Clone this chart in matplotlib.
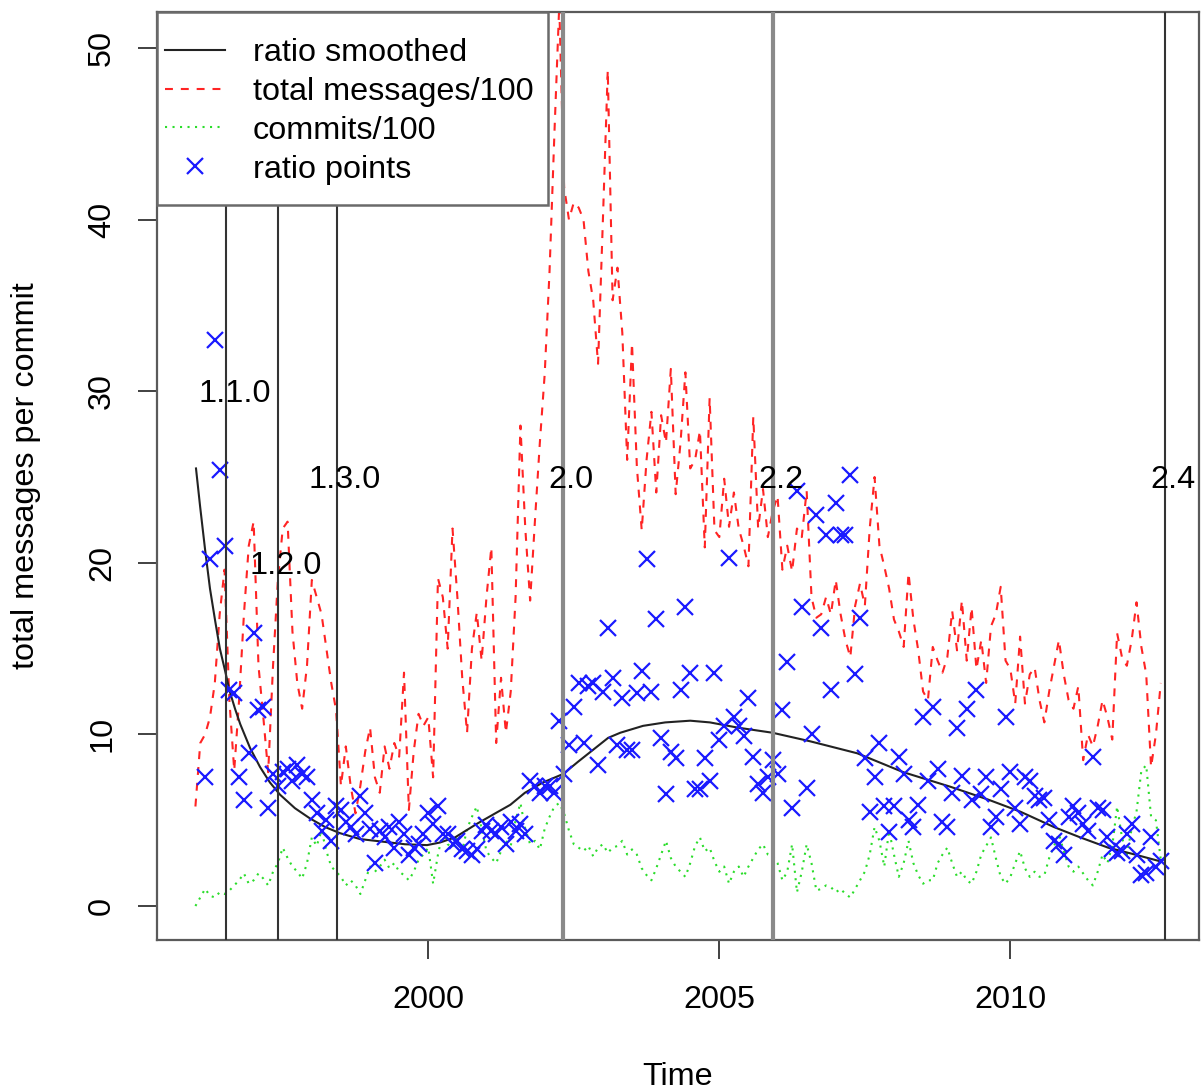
import numpy as np
import matplotlib
matplotlib.use("Agg")
import matplotlib.pyplot as plt
from matplotlib.lines import Line2D
from matplotlib.patches import Rectangle

plt.rcParams['font.family'] = ['Liberation Sans', 'DejaVu Sans']

# ---------------- data (monthly series starting Jan 1996) ----------------
start_year = 1996.0
months_per_year = 12

messages_per100 = [
    5.8, 9.5, 10, 11, 13, 17, 19.6, 12, 7.9, 12,
    17, 21, 22.4, 14, 11, 7.8, 14, 19, 22, 22.4,
    16, 13, 11.5, 14, 19, 18, 17, 15, 13, 11.4,
    7, 9.3, 7, 5.4, 7, 9, 10.4, 7.5, 6.6, 9.3,
    8, 9.5, 8.7, 13.6, 5.6, 9, 11.2, 10.5, 11, 7.5,
    19.1, 18, 15, 22, 18, 13.3, 10.1, 15, 17.1, 14.3,
    18, 20.9, 9.5, 13.3, 10.1, 12.5, 18, 28, 22, 17.8,
    22.5, 27, 31, 37, 45, 52.5, 41.9, 40, 41, 40.7,
    40, 37, 35.3, 31.6, 40, 48.7, 35.3, 37.2, 33.4, 26,
    32.8, 25.6, 21.9, 26, 28.8, 24.1, 28.6, 27, 31.3, 24,
    27, 31.1, 25.5, 26, 27.7, 20.9, 29.6, 21.9, 21.5, 24.9,
    22.1, 24.1, 22, 21, 19.8, 28.5, 22, 24.3, 21.5, 23,
    23.9, 19.6, 21, 19.5, 22, 21.5, 24.2, 18, 16.8, 17,
    18, 17, 19, 17, 15.5, 14.5, 17.5, 18.8, 17.5, 22,
    25, 21, 19.8, 18.5, 16.7, 16, 15.1, 19.4, 16.7, 14.9,
    12.5, 12, 15.1, 14.3, 13.6, 14.5, 17.2, 14.9, 17.8, 14.3,
    17.4, 13.8, 15.5, 13, 16.3, 17, 18.6, 14.3, 13.8, 11.8,
    15.7, 11.8, 13.5, 13.9, 12, 10.7, 12.5, 14, 15.5, 13.5,
    12, 11.5, 12.8, 8.5, 10, 9.3, 10.5, 12, 11, 9.7,
    15.9, 14.5, 14, 15.5, 17.7, 15.1, 13.5, 8.1, 10, 13,
]

commits_per100 = [
    0.0, 0.5, 1.0, 0.6, 0.5, 0.8, 0.7, 0.9, 1.2, 1.5,
    1.9, 1.3, 1.5, 1.9, 1.6, 1.2, 2.0, 2.5, 3.4, 2.8,
    2.3, 2.0, 1.6, 2.5, 4.0, 3.5, 4.4, 3.2, 2.3, 2.0,
    1.7, 1.2, 1.5, 1.2, 0.7, 1.5, 2.3, 2.0, 2.3, 2.7,
    2.2, 2.5, 2.0, 1.8, 1.5, 2.0, 2.7, 3.0, 3.4, 1.3,
    3.0, 4.3, 3.6, 3.4, 4.0, 3.2, 4.5, 5.2, 5.8, 4.5,
    3.2, 2.8, 2.5, 3.2, 3.8, 3.5, 5.0, 6.0, 4.5, 3.6,
    3.8, 3.3, 4.5, 5.2, 5.8, 6.0, 5.4, 4.4, 3.6, 3.4,
    3.2, 3.5, 2.9, 3.4, 3.6, 3.1, 3.4, 3.5, 3.8, 3.0,
    3.3, 3.0, 2.2, 1.8, 1.5, 2.2, 3.0, 3.8, 2.8, 2.3,
    2.0, 1.7, 2.5, 3.5, 4.0, 3.2, 3.4, 2.6, 2.0, 2.3,
    1.3, 2.0, 2.3, 1.7, 2.3, 2.8, 3.3, 3.6, 3.0, 2.9,
    2.5, 1.5, 2.0, 3.6, 0.8, 2.0, 3.6, 2.5, 0.9, 1.0,
    1.2, 1.1, 0.8, 1.0, 0.7, 0.5, 1.0, 1.5, 2.0, 3.0,
    4.6, 3.8, 2.3, 4.4, 3.0, 1.7, 2.5, 3.8, 2.5, 1.8,
    1.3, 1.5, 1.5, 2.5, 3.0, 3.4, 2.5, 1.7, 2.0, 1.5,
    1.3, 2.0, 3.0, 3.5, 4.0, 2.8, 1.7, 1.3, 1.7, 2.5,
    3.2, 2.2, 1.7, 2.0, 1.7, 1.8, 2.8, 3.5, 4.2, 3.2,
    2.3, 2.0, 2.3, 1.9, 1.5, 1.2, 2.0, 3.0, 2.5, 3.5,
    5.8, 4.0, 3.0, 4.5, 5.5, 7.9, 8.2, 5.2, 5.0, 2.7,
]

ratio_points = [
    np.nan, np.nan, 7.5, 20.2, 33, 25.4, 21, 12.6, 12.4, 7.5,
    6.2, 8.9, 15.9, 11.4, 11.6, 5.7, 7.7, 7.0, 7.8, 8.0,
    7.3, 8.2, 7.7, 7.5, 6.2, 5.4, 4.4, 5.0, 3.8, 5.8,
    5.6, 4.9, 4.6, 4.2, 6.4, 5.4, 4.5, 2.5, 4.4, 4.0,
    4.6, 3.4, 4.9, 4.2, 3.0, 3.4, 3.6, 4.2, 5.4, 4.8,
    5.8, 4.2, 4.2, 3.6, 3.8, 3.3, 3.2, 3.0, 3.3, 4.4,
    4.7, 4.4, 4.2, 4.6, 3.6, 4.9, 4.4, 4.8, 4.2, 7.3,
    7.0, 6.6, 7.0, 7.0, 6.6, 10.8, 7.7, 9.4, 11.6, 13.0,
    9.5, 12.8, 13.0, 8.2, 12.5, 16.2, 13.3, 9.4, 12.1, 9.1,
    9.1, 12.4, 13.7, 20.2, 12.5, 16.7, 9.8, 6.5, 9.0, 8.6,
    12.6, 17.4, 13.6, 6.8, 6.8, 8.6, 7.3, 13.6, 9.7, 10.5,
    20.3, 11.0, 10.5, 9.9, 12.1, 8.7, 7.1, 6.6, 7.5, 8.5,
    7.7, 11.4, 14.2, 5.7, 24.2, 17.4, 6.9, 10.0, 22.8, 16.2,
    21.6, 12.6, 23.5, 21.6, 21.6, 25.1, 13.5, 16.8, 8.6, 5.5,
    7.5, 9.5, 5.8, 4.3, 5.8, 8.7, 7.7, 5.0, 4.6, 5.9,
    11.0, 7.3, 11.6, 8.0, 4.9, 4.6, 6.6, 10.4, 7.6, 11.5,
    6.2, 12.6, 6.5, 7.5, 4.6, 5.2, 6.8, 11.0, 7.8, 5.7,
    4.8, 7.5, 7.3, 6.4, 6.2, 6.3, 5.0, 3.8, 3.6, 3.0,
    5.2, 5.8, 5.4, 4.8, 4.4, 8.7, 5.7, 5.6, 4.0, 3.3,
    3.1, 3.2, 4.2, 4.8, 3.0, 1.8, 1.9, 4.0, 2.3, 2.6,
]

smooth_years = [
    1996.01, 1996.08, 1996.165, 1996.25, 1996.34, 1996.42, 1996.51, 1996.59,
    1996.68, 1996.77, 1996.94, 1997.11, 1997.28, 1997.45, 1997.71, 1997.97,
    1998.23, 1998.48, 1998.83, 1999.22, 1999.60, 1999.98, 2000.20, 2000.46,
    2000.84, 2001.15, 2001.41, 2001.66, 2001.97, 2002.32, 2002.57, 2002.83,
    2003.09, 2003.30, 2003.69, 2004.07, 2004.50, 2004.84, 2005.31, 2005.91,
    2006.56, 2007.37, 2008.16, 2008.97, 2009.62, 2010.17, 2010.75, 2011.20,
    2011.68, 2012.14, 2012.58,
]
smooth_ratio = [
    25.5, 23.3, 20.8, 18.5, 16.6, 15.0, 13.7, 12.5,
    11.5, 10.6, 9.2, 8.1, 7.2, 6.5, 5.7, 5.1,
    4.6, 4.25, 3.9, 3.75, 3.6, 3.55, 3.7, 4.0,
    4.8, 5.4, 5.9, 6.6, 7.2, 7.7, 8.4, 9.1,
    9.8, 10.1, 10.5, 10.7, 10.8, 10.7, 10.4, 10.1,
    9.6, 8.9, 7.8, 6.95, 6.2, 5.5, 4.6, 4.0,
    3.4, 3.0, 2.6,
]

release_names = ['1.1.0', '1.2.0', '1.3.0', '2.0', '2.2', '2.4']
release_years = [1996.53, 1997.42, 1998.43, 2002.31, 2005.92, 2012.65]
release_label_y = [30, 20, 25, 25, 25, 25]

legend_labels = ['ratio smoothed', 'total messages/100', 'commits/100', 'ratio points']

# ---------------- drawing ----------------
FS = 23.3
W, H = 1201, 1090
fig = plt.figure(figsize=(W / 100, H / 100), dpi=100)
L, R, T, B = 157, 1199, 12, 940
ax = fig.add_axes([L / W, 1 - B / H, (R - L) / W, (B - T) / H])

t = start_year + np.arange(len(messages_per100)) / months_per_year

red = '#ff2424'
green = '#2bdd2b'
blue = '#1a1aff'
blk = '#222222'

ax.plot(smooth_years, smooth_ratio, color=blk, lw=1.5, zorder=3)
ax.plot(t, messages_per100, color=red, lw=1.5, dashes=(3.8, 3.8), zorder=2)
ax.plot(t, commits_per100, color=green, lw=1.5, dashes=(1, 2.6), zorder=2)
ax.plot(t, ratio_points, ls='none', marker='x', ms=12, mew=1.6, color=blue, zorder=3)

for name, yr, ly in zip(release_names, release_years, release_label_y):
    major = name in ('2.0', '2.2')
    ax.axvline(yr, color='#8a8a8a' if major else '#333333',
               lw=3.0 if major else 1.5, zorder=4)
    ax.annotate(name, xy=(yr, ly), xytext=(5.8, -2.3), textcoords='offset points',
                ha='center', va='center', fontsize=FS, color='black', zorder=5)

ax.set_xlim(1995.34, 2013.24)
ax.set_ylim(-1.98, 52.1)
ax.set_xticks([2000, 2005, 2010])
ax.set_yticks([0, 10, 20, 30, 40, 50])
ax.tick_params(direction='out', length=13.7, width=1.3, color='#333333',
               labelsize=FS)
ax.tick_params(axis='x', pad=18.5)
ax.tick_params(axis='y', pad=15)
for lab in ax.get_yticklabels():
    lab.set_rotation(90)
    lab.set_va('center')
for s in ax.spines.values():
    s.set_color('#5a5a5a')
    s.set_linewidth(1.6)

ax.set_xlabel('Time', fontsize=FS, va='center')
ax.xaxis.set_label_coords(0.5, (B - 1077) / (B - T))
ax.set_ylabel('total messages per commit', fontsize=FS, va='center')
ax.yaxis.set_label_coords((26 - L) / (R - L), 0.5)

# legend box
box = Rectangle((0, (B - 205) / (B - T)), (548 - L) / (R - L), (205 - T) / (B - T),
                transform=ax.transAxes, facecolor='white', edgecolor='#6a6a6a',
                lw=1.8, zorder=8, clip_on=False)
ax.add_patch(box)
handles = [
    Line2D([], [], color=blk, lw=1.5),
    Line2D([], [], color=red, lw=1.5, dashes=(3.8, 3.8)),
    Line2D([], [], color=green, lw=1.5, dashes=(1, 2.6)),
    Line2D([], [], ls='none', marker='x', ms=12, mew=1.6, color=blue),
]
leg = ax.legend(handles, legend_labels, loc='upper left',
                bbox_to_anchor=((165 - L) / (R - L), (B - 38) / (B - T)),
                borderaxespad=0, borderpad=0, frameon=False, fontsize=FS,
                handlelength=1.85, handletextpad=0.86, labelspacing=0.275)
leg.set_zorder(9)

fig.savefig('out.png', dpi=100)
